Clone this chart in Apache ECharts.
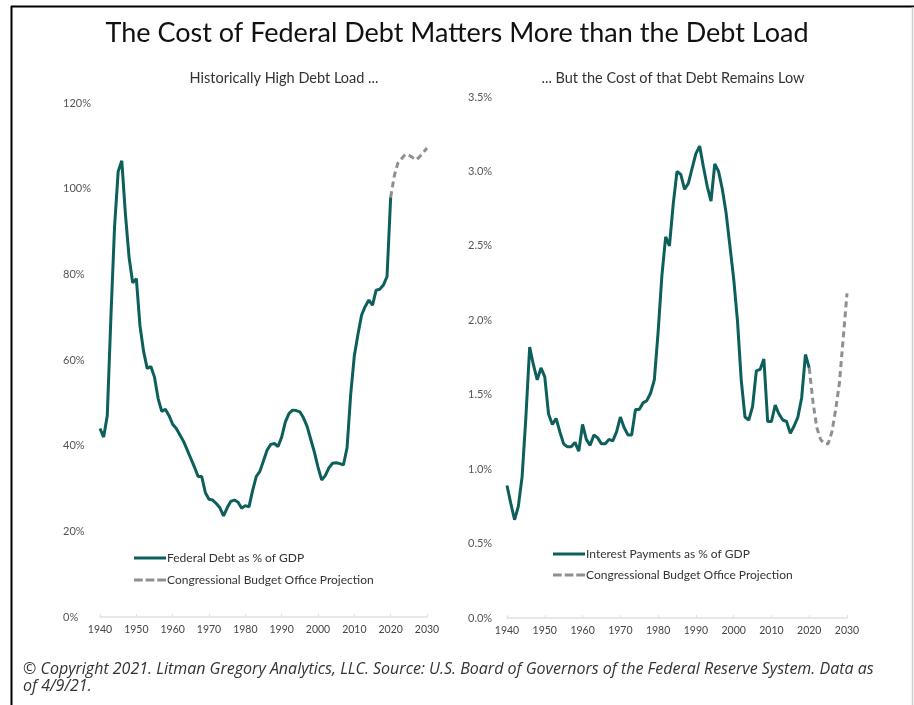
<!DOCTYPE html>
<html>
<head>
<meta charset="utf-8">
<script src="https://cdn.jsdelivr.net/npm/echarts@6/dist/echarts.min.js"></script>
<style>
  html, body { margin: 0; padding: 0; background: #fff; }
  #main { width: 914px; height: 705px; }
</style>
</head>
<body>
<div id="main"></div>
<script>
// years for the historical data
const years = [
  1940, 1941, 1942, 1943, 1944, 1945, 1946, 1947, 1948, 1949,
  1950, 1951, 1952, 1953, 1954, 1955, 1956, 1957, 1958, 1959,
  1960, 1961, 1962, 1963, 1964, 1965, 1966, 1967, 1968, 1969,
  1970, 1971, 1972, 1973, 1974, 1975, 1976, 1977, 1978, 1979,
  1980, 1981, 1982, 1983, 1984, 1985, 1986, 1987, 1988, 1989,
  1990, 1991, 1992, 1993, 1994, 1995, 1996, 1997, 1998, 1999,
  2000, 2001, 2002, 2003, 2004, 2005, 2006, 2007, 2008, 2009,
  2010, 2011, 2012, 2013, 2014, 2015, 2016, 2017, 2018, 2019,
  2020
];
// CBO projection years
const projYears = [2020, 2021, 2022, 2023, 2024, 2025, 2026, 2027, 2028, 2029, 2030];

// federal debt as % of GDP
const debt = [
  44, 42, 47, 70, 91, 104, 106.5, 94, 84, 78,
  79, 68, 62, 58, 58.5, 56, 51, 48, 48.5, 47,
  45, 44, 42.5, 41, 39, 37, 35, 32.8, 32.8, 29,
  27.5, 27.3, 26.5, 25.5, 23.6, 25.5, 27, 27.3, 26.8, 25.4,
  26, 25.7, 29.5, 32.8, 34, 36.5, 39, 40.3, 40.5, 39.8,
  42, 45.5, 47.5, 48.3, 48.2, 47.9, 46.5, 44.5, 41.5, 38.5,
  35, 32, 33, 34.8, 35.9, 36, 35.8, 35.5, 39.5, 52,
  61, 66, 70.5, 72.5, 74, 72.8, 76.3, 76.5, 77.5, 79.5,
  98
];
const debtProj = [98, 103, 106, 107, 108, 107.8, 107.3, 106.7, 107.5, 108.5, 109.5];

// interest payments as % of GDP
const interest = [
  0.89, 0.77, 0.66, 0.75, 0.95, 1.35, 1.82, 1.70, 1.60, 1.68,
  1.62, 1.37, 1.30, 1.34, 1.25, 1.17, 1.15, 1.15, 1.18, 1.12,
  1.30, 1.20, 1.16, 1.23, 1.21, 1.17, 1.17, 1.20, 1.19, 1.25,
  1.35, 1.28, 1.23, 1.23, 1.40, 1.40, 1.445, 1.46, 1.51, 1.60,
  1.92, 2.30, 2.56, 2.50, 2.78, 3.00, 2.98, 2.88, 2.92, 3.02,
  3.12, 3.17, 3.03, 2.90, 2.80, 3.05, 3.00, 2.88, 2.72, 2.50,
  2.28, 2.00, 1.60, 1.35, 1.33, 1.42, 1.66, 1.67, 1.74, 1.32,
  1.32, 1.43, 1.37, 1.33, 1.32, 1.24, 1.29, 1.35, 1.48, 1.77,
  1.68
];
const interestProj = [1.68, 1.45, 1.28, 1.20, 1.17, 1.17, 1.25, 1.40, 1.58, 1.88, 2.18];

const FONT = 'Lato';
const TEAL = '#0d5f5b';
const GREY = '#8f8f8f';

// legend icons: a solid bar and a dashed bar ending in a dot
const ICON_SOLID = 'path://M0,0h32v3h-32z';
const ICON_DASH = 'path://M0,0h9v3h-9z M12,0h9v3h-9z M24,0h9v3h-9z M32,0h0v3h0z';

function pairs(xs, ys) {
  return xs.map((x, i) => [x, ys[i]]);
}

const chart = echarts.init(document.getElementById('main'));

const xAxisBase = {
  type: 'value',
  min: 1940,
  max: 2030,
  interval: 10,
  axisLine: { show: true, lineStyle: { color: '#dbe3e0', width: 1.5 } },
  axisTick: { show: true, inside: true, length: 3, lineStyle: { color: '#dbe3e0' } },
  splitLine: { show: false },
  axisLabel: {
    color: '#444', fontFamily: FONT, fontSize: 10.5, margin: 7,
    formatter: (v) => String(v)
  }
};

const yLabel = { color: '#555', fontFamily: FONT, fontSize: 11, align: 'left' };

const legendText = { fontFamily: FONT, fontSize: 12, color: '#333', padding: [0, 0, 0, -4] };

let option = {
  backgroundColor: '#fff',
  animation: false,
  title: [
    {
      text: 'The Cost of Federal Debt Matters More than the Debt Load',
      left: 'center', top: 15,
      textStyle: { fontFamily: FONT, fontSize: 27, fontWeight: 'normal', color: '#111' }
    },
    {
      text: 'Historically High Debt Load ...',
      left: 279, top: 66, textAlign: 'center',
      textStyle: { fontFamily: FONT, fontSize: 14.5, fontWeight: 'normal', color: '#333' }
    },
    {
      text: '... But the Cost of that Debt Remains Low',
      left: 668, top: 66, textAlign: 'center',
      textStyle: { fontFamily: FONT, fontSize: 14.5, fontWeight: 'normal', color: '#333' }
    },
    {
      text: '© Copyright 2021. Litman Gregory Analytics, LLC. Source: U.S. Board of Governors of the Federal Reserve System. Data as\nof 4/9/21.',
      left: 18, top: 656,
      textStyle: { fontFamily: 'Open Sans', fontSize: 16, fontStyle: 'italic', fontWeight: 'normal', color: '#333', lineHeight: 17 }
    }
  ],
  graphic: [
    { type: 'line', shape: { x1: 11, y1: 6.5, x2: 914, y2: 6.5 }, style: { stroke: '#000', lineWidth: 2 } },
    { type: 'line', shape: { x1: 11.5, y1: 6, x2: 11.5, y2: 705 }, style: { stroke: '#000', lineWidth: 2 } },
    { type: 'line', shape: { x1: 912.5, y1: 7, x2: 912.5, y2: 705 }, style: { stroke: '#cccccc', lineWidth: 1.5 } }
  ],
  legend: [
    {
      orient: 'vertical', left: 134, top: 552, itemGap: 10, padding: 0,
      itemWidth: 32, itemHeight: 3,
      textStyle: legendText,
      data: [
        { name: 'Federal Debt as % of GDP', icon: ICON_SOLID },
        { name: 'Congressional Budget Office Projection', icon: ICON_DASH }
      ]
    },
    {
      orient: 'vertical', left: 553, top: 548, itemGap: 9, padding: 0,
      itemWidth: 32, itemHeight: 3,
      textStyle: legendText,
      data: [
        { name: 'Interest Payments as % of GDP', icon: ICON_SOLID },
        { name: 'Congressional Budget Office Projection', icon: ICON_DASH }
      ]
    }
  ],
  grid: [
    { left: 100, right: 487, top: 103, bottom: 88 },
    { left: 507, right: 67, top: 97, bottom: 87 }
  ],
  xAxis: [
    Object.assign({ gridIndex: 0 }, xAxisBase),
    Object.assign({ gridIndex: 1 }, xAxisBase)
  ],
  yAxis: [
    {
      gridIndex: 0, type: 'value', min: 0, max: 120, interval: 20,
      axisLine: { show: false }, axisTick: { show: false }, splitLine: { show: false },
      axisLabel: Object.assign({ margin: 37, formatter: '{value}%' }, yLabel)
    },
    {
      gridIndex: 1, type: 'value', min: 0, max: 3.5, interval: 0.5,
      axisLine: { show: false }, axisTick: { show: false }, splitLine: { show: false },
      axisLabel: Object.assign({ margin: 39, formatter: (v) => v.toFixed(1) + '%' }, yLabel)
    }
  ],
  series: [
    {
      name: 'Federal Debt as % of GDP',
      type: 'line', xAxisIndex: 0, yAxisIndex: 0,
      showSymbol: false, symbol: 'none',
      lineStyle: { color: TEAL, width: 3 }, itemStyle: { color: TEAL },
      data: pairs(years, debt)
    },
    {
      name: 'Congressional Budget Office Projection',
      type: 'line', xAxisIndex: 0, yAxisIndex: 0,
      showSymbol: false, symbol: 'none',
      lineStyle: { color: GREY, width: 3, type: [6, 4] }, itemStyle: { color: GREY },
      data: pairs(projYears, debtProj)
    },
    {
      name: 'Interest Payments as % of GDP',
      type: 'line', xAxisIndex: 1, yAxisIndex: 1,
      showSymbol: false, symbol: 'none',
      lineStyle: { color: TEAL, width: 3 }, itemStyle: { color: TEAL },
      data: pairs(years, interest)
    },
    {
      name: 'Congressional Budget Office Projection',
      type: 'line', xAxisIndex: 1, yAxisIndex: 1,
      showSymbol: false, symbol: 'none',
      lineStyle: { color: GREY, width: 3, type: [6, 4] }, itemStyle: { color: GREY },
      data: pairs(projYears, interestProj)
    }
  ]
};

chart.setOption(option);
</script>
</body>
</html>
